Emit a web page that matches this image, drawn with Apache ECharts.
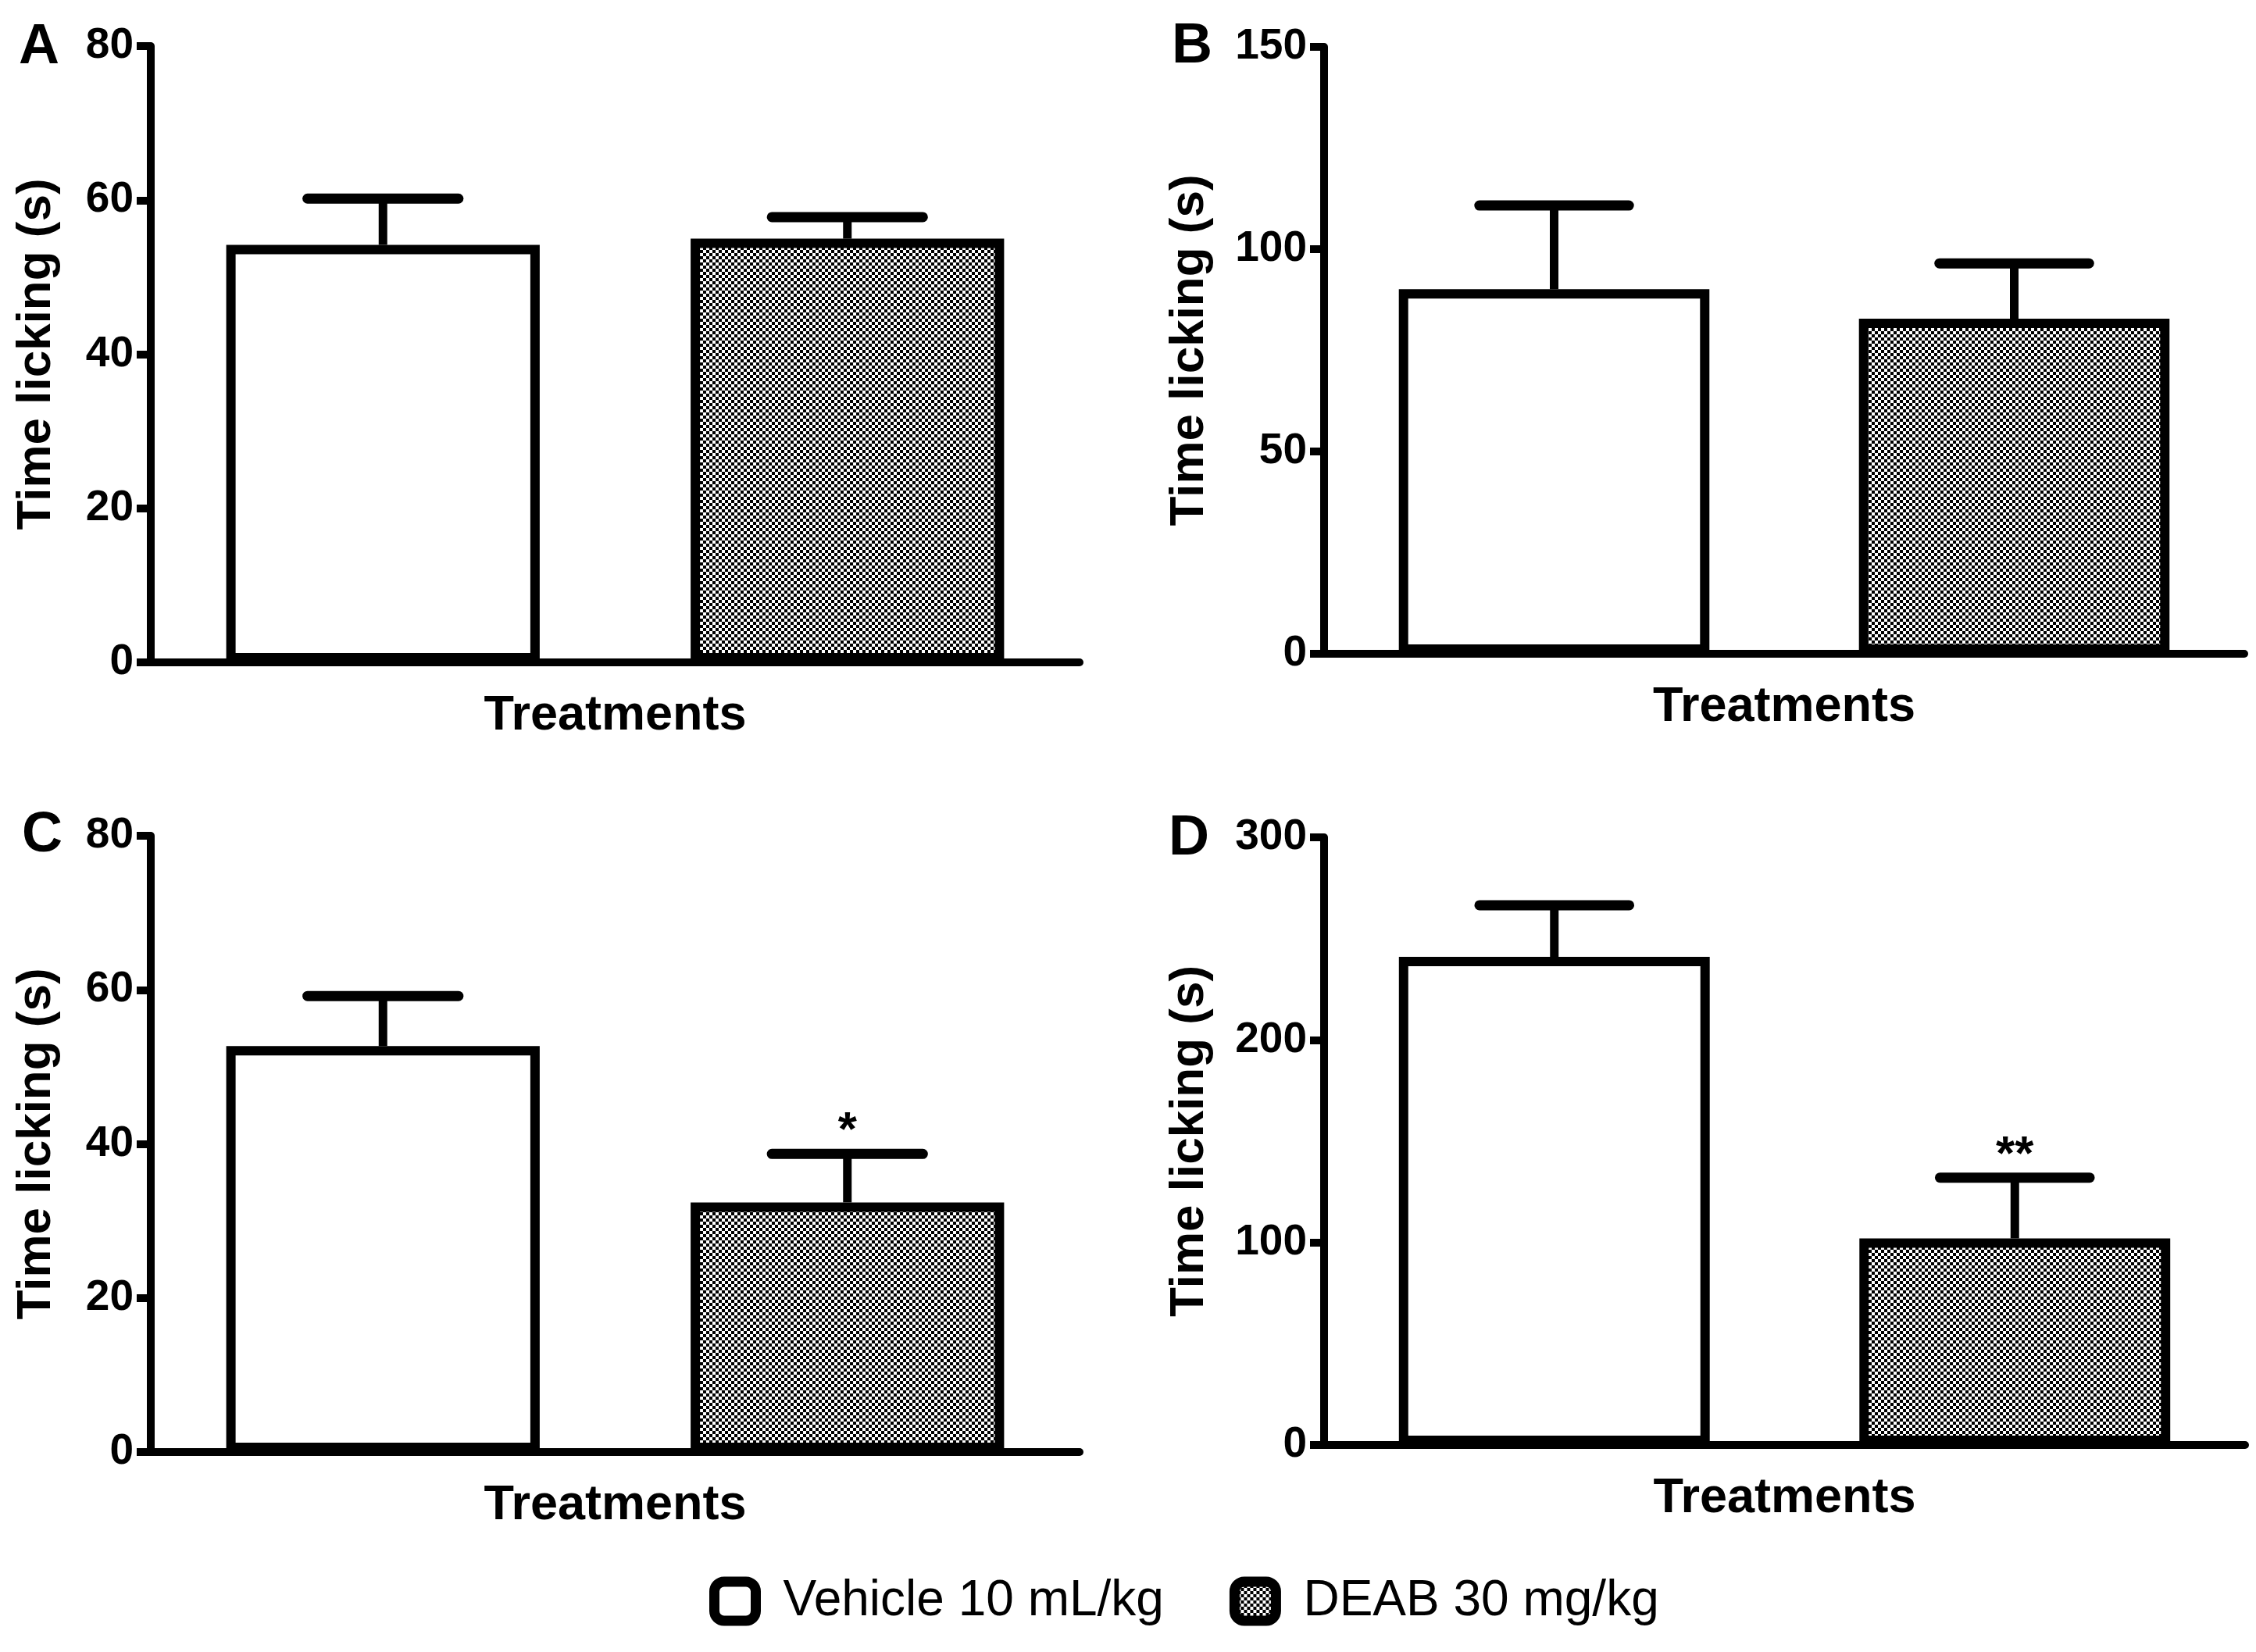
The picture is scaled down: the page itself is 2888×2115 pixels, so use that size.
<!DOCTYPE html>
<html>
<head>
<meta charset="utf-8">
<title>Time licking</title>
<script src="https://cdn.jsdelivr.net/npm/echarts/dist/echarts.min.js"></script>
<style>
html,body{margin:0;padding:0;background:#fff;}
#container{width:2888px;height:2115px;}
</style>
</head>
<body>
<div id="container"></div>
<script>
// data
var panelNames = ['A', 'B', 'C', 'D'];
var groupNames = ['Vehicle 10 mL/kg', 'DEAB 30 mg/kg'];
var vehicleMean = [54.2, 90.1, 52.7, 241];
var vehicleSem = [6.0, 20.7, 6.5, 25.5];
var deabMean = [55.0, 82.8, 32.4, 102];
var deabSem = [2.8, 13.7, 6.3, 30];
var deabMark = ['', '', '*', '**'];
var yMax = [80, 150, 80, 300];
var yStep = [20, 50, 20, 100];

var FONT = '"Liberation Sans", Arial, sans-serif';

// layout of the 4 panels (px)
var grids = [
	{left: 193, top: 59, width: 1189, height: 789},
	{left: 1695, top: 60, width: 1178, height: 777},
	{left: 193, top: 1070, width: 1189, height: 789},
	{left: 1695, top: 1072, width: 1179, height: 778}
];
var titleGap = [115, 141, 115, 141];
var letterPos = [[50, 61], [1526, 60], [54, 1070], [1522, 1074]];

// checkerboard fill for DEAB bars
var tile = document.createElement('canvas');
tile.width = 8; tile.height = 8;
var tc = tile.getContext('2d');
tc.fillStyle = '#fff';
tc.fillRect(0, 0, 8, 8);
tc.fillStyle = '#000';
tc.fillRect(0, 0, 4, 4);
tc.fillRect(4, 4, 4, 4);
var checker = {image: tile, repeat: 'repeat'};

var xAxes = [], yAxes = [], series = [], graphics = [];

for (var i = 0; i < 4; i++) {
	xAxes.push({
		gridIndex: i,
		type: 'category',
		data: groupNames,
		name: 'Treatments',
		nameLocation: 'middle',
		nameGap: 37,
		nameTextStyle: {fontFamily: FONT, fontWeight: 'bold', fontSize: 63, color: '#000'},
		axisLine: {lineStyle: {color: '#000', width: 10}},
		axisTick: {alignWithLabel: true, length: 22, lineStyle: {color: '#000', width: 9}},
		axisLabel: {show: false},
		splitLine: {show: false}
	});
	yAxes.push({
		gridIndex: i,
		type: 'value',
		min: 0,
		max: yMax[i],
		interval: yStep[i],
		name: 'Time licking (s)',
		nameLocation: 'middle',
		nameGap: titleGap[i],
		nameRotate: 90,
		nameTextStyle: {fontFamily: FONT, fontWeight: 'bold', fontSize: 62, color: '#000'},
		axisLine: {show: true, lineStyle: {color: '#000', width: 10}},
		axisTick: {show: true, length: 18, lineStyle: {color: '#000', width: 10}},
		axisLabel: {fontFamily: FONT, fontWeight: 'bold', fontSize: 55, color: '#000', margin: 22},
		splitLine: {show: false}
	});

	series.push({
		name: groupNames[0],
		type: 'bar',
		xAxisIndex: i,
		yAxisIndex: i,
		barWidth: '67.5%',
		barGap: '-100%',
		itemStyle: {color: '#fff', borderColor: '#000', borderWidth: 12},
		data: [vehicleMean[i], '-']
	});
	series.push({
		name: groupNames[1],
		type: 'bar',
		xAxisIndex: i,
		yAxisIndex: i,
		barWidth: '67.5%',
		barGap: '-100%',
		itemStyle: {color: checker, borderColor: '#000', borderWidth: 12},
		data: ['-', deabMean[i]]
	});
	series.push({
		name: 'sem',
		type: 'custom',
		xAxisIndex: i,
		yAxisIndex: i,
		z: 3,
		encode: {x: 0, y: 1},
		data: [
			[0, vehicleMean[i], vehicleSem[i], ''],
			[1, deabMean[i], deabSem[i], deabMark[i]]
		],
		renderItem: function (params, api) {
			var x = api.value(0), m = api.value(1), s = api.value(2);
			var mark = api.value(3);
			var base = api.coord([x, m]);
			var top = api.coord([x, m + s]);
			var half = api.size([1, 0])[0] * 0.65 / 4;
			var kids = [
				{type: 'line', shape: {x1: base[0], y1: base[1], x2: top[0], y2: top[1]},
					style: {stroke: '#000', lineWidth: 11}},
				{type: 'line', shape: {x1: top[0] - half, y1: top[1], x2: top[0] + half, y2: top[1]},
					style: {stroke: '#000', lineWidth: 13, lineCap: 'round'}}
			];
			if (mark) {
				kids.push({type: 'text', style: {
					text: mark, x: top[0], y: top[1] - 28,
					align: 'center', verticalAlign: 'middle',
					font: 'bold 62px ' + FONT, fill: '#000'
				}});
			}
			return {type: 'group', children: kids};
		}
	});

	graphics.push({
		type: 'text',
		left: letterPos[i][0] - 26,
		top: letterPos[i][1] - 36,
		style: {text: panelNames[i], font: 'bold 72px ' + FONT, fill: '#000'}
	});
}

var myChart = echarts.init(document.getElementById('container'));
var option = {
	animation: false,
	backgroundColor: '#fff',
	grid: grids,
	xAxis: xAxes,
	yAxis: yAxes,
	legend: {
		data: groupNames,
		left: 903,
		top: 2013,
		icon: 'roundRect',
		itemWidth: 53,
		itemHeight: 50,
		itemGap: 84,
		itemStyle: {borderColor: '#000', borderWidth: 13},
		textStyle: {fontFamily: FONT, fontSize: 64, color: '#000', padding: [0, 0, 0, 30]},
		selectedMode: false
	},
	graphic: graphics,
	series: series
};
myChart.setOption(option, true);
</script>
</body>
</html>
